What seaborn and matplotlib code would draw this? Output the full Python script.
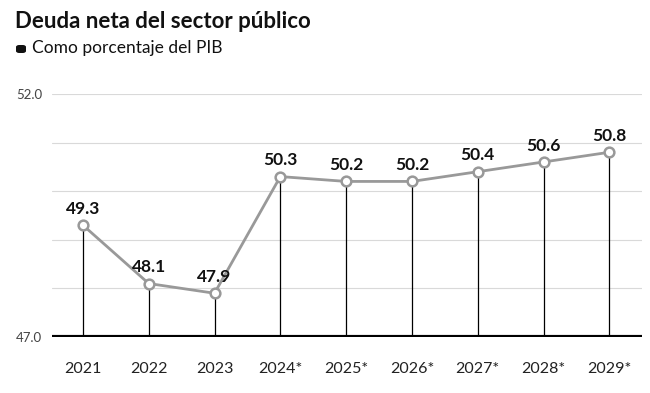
import matplotlib
matplotlib.use("Agg")
import matplotlib.pyplot as plt
from matplotlib.patches import FancyBboxPatch
import seaborn as sns
import pandas as pd

years = ["2021", "2022", "2023", "2024*", "2025*", "2026*", "2027*", "2028*", "2029*"]
values = [49.3, 48.1, 47.9, 50.3, 50.2, 50.2, 50.4, 50.6, 50.8]
y_ticks = [47.0, 48.0, 49.0, 50.0, 51.0, 52.0]
y_tick_labels = ["47.0", "", "", "", "", "52.0"]

sns.set_theme(style="white")
plt.rcParams['font.family'] = ['Lato', 'DejaVu Sans']

df = pd.DataFrame({"year": years, "value": values, "idx": range(len(years))})

fig = plt.figure(figsize=(6.5, 3.93), dpi=100)
ax = fig.add_axes([0.08, 0.1425, 0.908, 0.6185])

for y in y_ticks:
    ax.axhline(y, color="#d9d9d9", lw=0.8, zorder=0)

ax.vlines(df["idx"], 47.0, df["value"], color="black", lw=0.9, zorder=1)
sns.lineplot(data=df, x="idx", y="value", ax=ax, color="#999999", lw=2, zorder=2,
             marker="o", markersize=7, markerfacecolor="white",
             markeredgecolor="#999999", markeredgewidth=1.8)
ax.axhline(47.0, color="black", lw=3, zorder=3)

for i, v in enumerate(values):
    ax.annotate(f"{v:.1f}", (i, v), xytext=(0, 6), textcoords="offset points",
                ha="center", va="bottom", fontsize=12.5, fontweight="bold", color="#111111")

ax.set_xlim(-0.47, 8.5)
ax.set_ylim(47.0, 52.0)
ax.set_xticks(range(len(years)))
ax.set_xticklabels(years, fontsize=11.5, color="#222222")
ax.set_yticks(y_ticks)
ax.set_yticklabels(y_tick_labels, fontsize=9.5, color="#444444")
ax.tick_params(axis="x", length=0, pad=18)
ax.tick_params(axis="y", length=0, pad=7)
ax.set_xlabel("")
ax.set_ylabel("")
for s in ax.spines.values():
    s.set_visible(False)

fig.text(0.023, 0.945, "Deuda neta del sector público", fontsize=16, fontweight="bold",
         color="#111111", va="center", ha="left")
tag = FancyBboxPatch((16 / 650, 1 - 53 / 393), 10 / 650, 8 / 393,
                     boxstyle="round,pad=0,rounding_size=0.005",
                     transform=fig.transFigure, facecolor="#111111", edgecolor="none")
fig.patches.append(tag)
fig.text(0.049, 0.878, "Como porcentaje del PIB", fontsize=12.5, color="#111111",
         va="center", ha="left")

fig.savefig("out.png", dpi=100)
